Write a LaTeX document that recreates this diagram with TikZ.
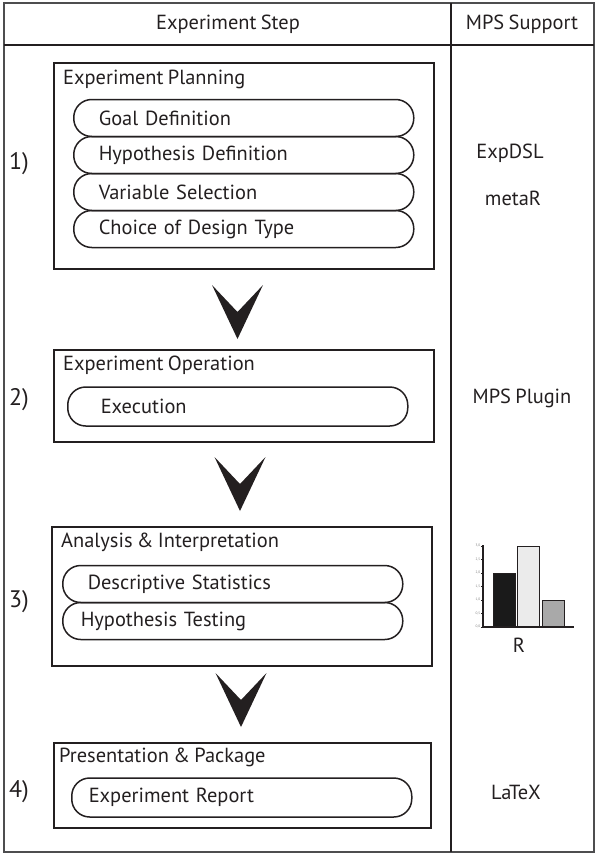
\documentclass[tikz,border=0pt]{standalone}
\usepackage{fontspec}
\setmainfont[WordSpace=0.8]{PT Sans}

\definecolor{ink}{HTML}{231F20}
\definecolor{frame}{HTML}{4D4D4F}
\definecolor{barA}{HTML}{1A1A1A}
\definecolor{barB}{HTML}{EBEBEB}
\definecolor{barC}{HTML}{A9A9A9}

\tikzset{
  stepbox/.style={draw=ink, line width=2bp, minimum width=380bp, anchor=north west, inner sep=0pt},
  pill/.style={draw=ink, line width=1.5bp, rounded corners=18bp, minimum height=37bp,
               inner ysep=0pt, align=left, anchor=west},
  title/.style={anchor=west, inner sep=0pt},
  steptxt/.style={font=\fontsize{20.5}{24}\selectfont},
}

\begin{document}
\begin{tikzpicture}[x=1bp, y=-1bp, every node/.style={steptxt, text=ink}]

\useasboundingbox (0,0) rectangle (595,855);

% --- Table frame ---
\draw[frame, line width=1.2bp] (4,3) rectangle (594,852);
\draw[ink, line width=1.2bp] (4,45) -- (594,45);
\draw[ink, line width=2bp] (451,3) -- (451,852);

\node (hstep) at (228,24) {Experiment Step};
\node (hmps) at (522,24) {MPS Support};

% --- 1) Experiment Planning ---
\node[stepbox, minimum height=206bp] (plan) at (53,62) {};
\node[title] (plant) at (63,79) {Experiment Planning};
\foreach \t [count=\i] in {Goal Definition, Hypothesis Definition, Variable Selection, Choice of Design Type} {
    \node[pill, text width=290bp, inner xsep=25bp] (plan\i) at (73,81+37*\i) {\t};
}

% --- 2) Experiment Operation ---
\node[stepbox, minimum height=92bp] (oper) at (53,349) {};
\node[title] (opert) at (63,365) {Experiment Operation};
\node[pill, minimum height=39bp, text width=274bp, inner xsep=33bp] (oper1) at (67,406.5) {Execution};

% --- 3) Analysis & Interpretation ---
\node[stepbox, minimum height=139bp] (anal) at (51,526) {};
\node[title] (analt) at (61,542) {Analysis \& Interpretation};
\node[pill, text width=290bp, inner xsep=25bp] (anal1) at (62,584) {Descriptive Statistics};
\node[pill, text width=304bp, inner xsep=18bp] (anal2) at (62,621) {Hypothesis Testing};

% --- 4) Presentation & Package ---
\node[stepbox, minimum width=377bp, minimum height=85bp] (pres) at (53,742) {};
\node[title] (prest) at (59,757) {Presentation \& Package};
\node[pill, minimum height=39bp, text width=306bp, inner xsep=17bp] (pres1) at (71,797.5) {Experiment Report};

% Step numbers
\foreach \n/\y in {1/164, 2/400, 3/602, 4/792} {
    \node[font=\fontsize{24}{28}\selectfont] (num\n) at (19,\y) {\n)};
}

% Chevrons between the steps
\foreach \cx/\ty in {237.5/285, 240/457, 241/673} {
    \fill[ink] (\cx-25.5,\ty) -- (\cx,\ty+27) -- (\cx+25.5,\ty) -- (\cx,\ty+54) -- cycle;
}

% --- MPS support column ---
\node (expdsl) at (510,153) {ExpDSL};
\node (metar) at (513,198) {metaR};
\node (plugin) at (522,398) {MPS Plugin};
\node (latex) at (516,792) {LaTeX};

% Bar chart for R
\def\H{{2, 3, 1}}
\foreach \i/\c in {0/barA, 1/barB, 2/barC} {
    \pgfmathsetmacro{\h}{\H[\i]*27}
    \draw[ink, fill=\c, line width=1bp] (493+24.5*\i,627) rectangle ++(22,-\h);
}
\draw[ink, line width=1.2bp] (483,545) -- (483,627) -- (574,627);
\foreach \v [count=\k from 0] in {{0,0},{0,5},{1,0},{1,5},{2,0},{2,5},{3,0}} {
    \draw[ink, line width=0.5bp] (481,627-13.5*\k) -- (483,627-13.5*\k);
    \node[font=\fontsize{3.5}{4}\selectfont, text=gray, anchor=east, inner sep=0.5bp] (tick\k) at (481,627-13.5*\k) {\v};
}
\node (rlab) at (519,645) {R};

\end{tikzpicture}
\end{document}
